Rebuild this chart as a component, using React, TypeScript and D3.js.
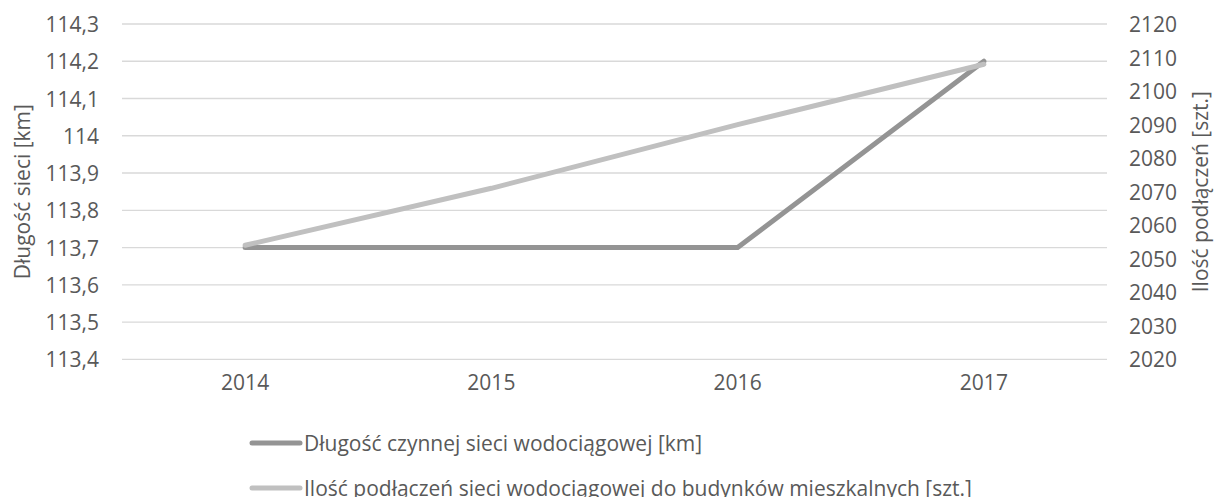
import React, { useEffect } from "react";
import * as d3 from "d3";

const categories = ["2014", "2015", "2016", "2017"];
const lengthValues = [113.7, 113.7, 113.7, 114.2];
const connectionValues = [2054, 2071, 2090, 2108];
const leftTicks = [113.4, 113.5, 113.6, 113.7, 113.8, 113.9, 114, 114.1, 114.2, 114.3];
const rightTicks = [2020, 2030, 2040, 2050, 2060, 2070, 2080, 2090, 2100, 2110, 2120];
const seriesNames = [
  "Długość czynnej sieci wodociągowej [km]",
  "Ilość podłączeń sieci wodociągowej do budynków mieszkalnych [szt.]",
];
const leftTitle = "Długość sieci [km]";
const rightTitle = "Ilość podłączeń [szt.]";

const W = 1215;
const H = 497;
const plot = { left: 122, right: 1107, top: 24, bottom: 359.3 };
const FONT = "'Open Sans', sans-serif";
const TEXT = "#595959";
const DARK = "#949494";
const LIGHT = "#c0c0c0";

const fmt = (v: number) => String(v).replace(".", ",");

export default function App() {
  useEffect(() => {
    document.body.style.margin = "0";
  }, []);

  const x = d3.scaleBand<string>().domain(categories).range([plot.left, plot.right]);
  const cx = (c: string) => (x(c) as number) + x.bandwidth() / 2;
  const yL = d3.scaleLinear().domain([113.4, 114.3]).range([plot.bottom, plot.top]);
  const yR = d3.scaleLinear().domain([2020, 2120]).range([plot.bottom, plot.top]);

  const lineL = d3
    .line<number>()
    .x((_, i) => cx(categories[i]))
    .y((d) => yL(d));
  const lineR = d3
    .line<number>()
    .x((_, i) => cx(categories[i]))
    .y((d) => yR(d));

  const legendY = [443, 488];
  const legendColors = [DARK, LIGHT];

  return (
    <svg width={W} height={H} style={{ display: "block", background: "#fff" }}>
      {leftTicks.map((t) => (
        <line
          key={"g" + t}
          x1={plot.left}
          x2={plot.right}
          y1={yL(t)}
          y2={yL(t)}
          stroke="#d9d9d9"
          strokeWidth={1.3}
        />
      ))}
      {leftTicks.map((t) => (
        <text
          key={"l" + t}
          x={99}
          y={yL(t)}
          textAnchor="end"
          dominantBaseline="central"
          fontFamily={FONT}
          fontSize={21}
          fill={TEXT}
        >
          {fmt(t)}
        </text>
      ))}
      {rightTicks.map((t) => (
        <text
          key={"r" + t}
          x={1129}
          y={yR(t)}
          textAnchor="start"
          dominantBaseline="central"
          fontFamily={FONT}
          fontSize={21}
          fill={TEXT}
        >
          {t}
        </text>
      ))}
      {categories.map((c) => (
        <text
          key={"c" + c}
          x={cx(c)}
          y={382}
          textAnchor="middle"
          dominantBaseline="central"
          fontFamily={FONT}
          fontSize={21}
          fill={TEXT}
        >
          {c}
        </text>
      ))}
      <text
        transform={`translate(22,${(plot.top + plot.bottom) / 2}) rotate(-90)`}
        textAnchor="middle"
        dominantBaseline="central"
        fontFamily={FONT}
        fontSize={21}
        fill={TEXT}
      >
        {leftTitle}
      </text>
      <text
        transform={`translate(1200,${(plot.top + plot.bottom) / 2}) rotate(-90)`}
        textAnchor="middle"
        dominantBaseline="central"
        fontFamily={FONT}
        fontSize={21}
        fill={TEXT}
      >
        {rightTitle}
      </text>
      <path
        d={lineL(lengthValues) || ""}
        fill="none"
        stroke={DARK}
        strokeWidth={5}
        strokeLinecap="round"
        strokeLinejoin="round"
      />
      <path
        d={lineR(connectionValues) || ""}
        fill="none"
        stroke={LIGHT}
        strokeWidth={5}
        strokeLinecap="round"
        strokeLinejoin="round"
      />
      {seriesNames.map((name, i) => (
        <g key={"lg" + i}>
          <line
            x1={252}
            x2={300}
            y1={legendY[i]}
            y2={legendY[i]}
            stroke={legendColors[i]}
            strokeWidth={5}
            strokeLinecap="round"
          />
          <text
            x={304}
            y={legendY[i]}
            dominantBaseline="central"
            fontFamily={FONT}
            fontSize={21}
            fill={TEXT}
          >
            {name}
          </text>
        </g>
      ))}
    </svg>
  );
}
